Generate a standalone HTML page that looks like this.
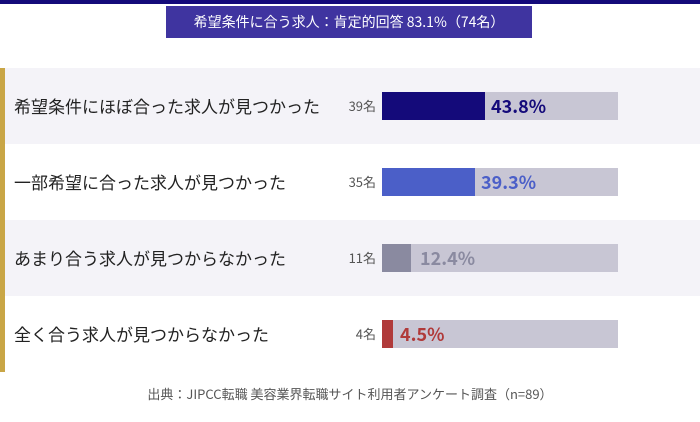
<!DOCTYPE html>
<html><head><meta charset="utf-8"><style>
body{margin:0;width:700px;height:422px;background:#fff;position:relative;overflow:hidden;font-family:"Noto Sans CJK JP","Liberation Sans",sans-serif}
.top{position:absolute;left:0;top:0;width:700px;height:4px;background:#140a7a}
.title{position:absolute;left:166px;top:6px;width:366px;height:32px;background:#3f34a0;color:#fff;font-size:14px;line-height:32px;text-align:center}
.gold{position:absolute;left:0;top:68px;width:5px;height:304px;background:#c9a646}
.row{position:absolute;left:5px;width:695px;height:76px}
.lab{position:absolute;left:14px;font-size:17px;color:#222;line-height:20px}
.cnt{position:absolute;right:324px;font-size:13px;color:#555;line-height:20px}
.track{position:absolute;left:382px;width:236px;height:28px;background:#c8c6d4}
.bar{position:absolute;left:0;top:0;height:28px}
.pct{position:absolute;font-size:18px;font-weight:bold;line-height:28px;top:0}
.foot{position:absolute;left:0;width:700px;top:384px;text-align:center;font-size:13px;color:#555;line-height:20px}
</style></head><body>
<div class="top"></div>
<div class="title">希望条件に合う求人：肯定的回答 83.1%（74名）</div>
<div class="row" style="top:68px;background:#f4f3f8"></div>
<div class="row" style="top:220px;background:#f4f3f8"></div>
<div class="gold"></div>

<div class="lab" style="top:96px">希望条件にほぼ合った求人が見つかった</div>
<div class="cnt" style="top:96px">39名</div>
<div class="track" style="top:92px"><div class="bar" style="width:103px;background:#140a7a"></div><div class="pct" style="left:109px;color:#140a7a">43.8%</div></div>

<div class="lab" style="top:172px">一部希望に合った求人が見つかった</div>
<div class="cnt" style="top:172px">35名</div>
<div class="track" style="top:168px"><div class="bar" style="width:93px;background:#4b5fc8"></div><div class="pct" style="left:99px;color:#4b5fc8">39.3%</div></div>

<div class="lab" style="top:248px">あまり合う求人が見つからなかった</div>
<div class="cnt" style="top:248px">11名</div>
<div class="track" style="top:244px"><div class="bar" style="width:29px;background:#8a8aa0"></div><div class="pct" style="left:38px;color:#8a8aa0">12.4%</div></div>

<div class="lab" style="top:324px">全く合う求人が見つからなかった</div>
<div class="cnt" style="top:324px">4名</div>
<div class="track" style="top:320px"><div class="bar" style="width:11px;background:#b03a3a"></div><div class="pct" style="left:18px;color:#b03a3a">4.5%</div></div>

<div class="foot">出典：JIPCC転職 美容業界転職サイト利用者アンケート調査（n=89）</div>
</body></html>
